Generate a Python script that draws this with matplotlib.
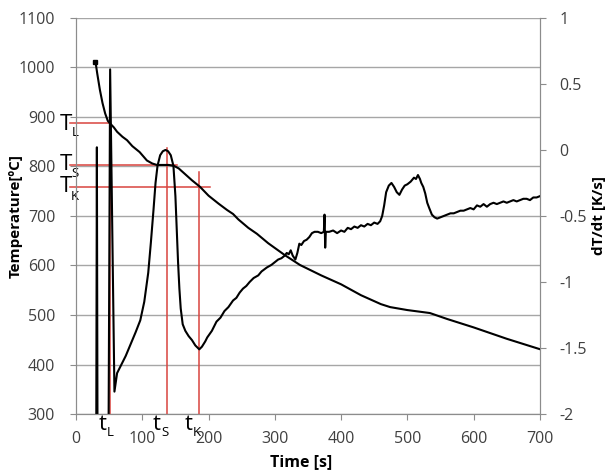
import matplotlib.pyplot as plt

plt.rcParams['font.family'] = ['Open Sans', 'DejaVu Sans']

# Temperature curve [s], [degC]
time_T = [29, 30, 32, 36, 40, 44, 48, 52, 57, 62, 70, 77, 85, 96, 107, 115, 122,
          130, 140, 148, 155, 165, 175, 187, 200, 215, 228, 237, 245, 260, 273,
          290, 315, 338, 370, 400, 430, 460, 474, 500, 534, 560, 600, 650, 700]
temp = [1010, 1006, 988, 955, 928, 907, 892, 886, 879, 870, 860, 853, 841, 829,
        812, 806, 803, 803, 803, 801, 796, 784, 772, 759, 741, 725, 712, 704, 693,
        676, 664, 645, 621, 601, 580, 562, 540, 522, 516, 510, 504, 492, 475, 452, 431]

# Cooling rate curve [s], [K/s]
time_d = [30.5, 31.5, 32.5, 49, 51.5, 58, 60, 62, 65, 69, 75, 80, 85, 90, 97, 103,
          109, 113, 117, 120, 123, 127, 131, 135, 139, 143, 147, 150, 152, 154,
          156, 158, 161, 165, 170, 175, 180, 186, 190, 195, 198, 205, 212, 218,
          224, 230, 237, 242, 247, 252, 257, 262, 268, 275, 280, 288, 295, 300,
          305, 310, 315, 318, 321, 324, 327, 331, 334, 337, 340, 344, 348, 352,
          356, 360, 365, 370, 374, 375, 376, 377, 382, 388, 394, 400, 405, 410,
          415, 420, 425, 430, 435, 440, 445, 450, 455, 459, 462, 465, 468, 472,
          476, 480, 484, 488, 492, 496, 500, 505, 510, 513, 516, 519, 521, 524,
          527, 530, 533, 537, 541, 545, 550, 555, 560, 565, 570, 575, 580, 585,
          590, 595, 600, 605, 610, 615, 620, 625, 630, 635, 640, 645, 650, 655,
          660, 665, 670, 675, 680, 685, 690, 695, 700]
rate = [-2.3, 0.02, -2.3, -2.3, 0.61, -1.83, -1.76, -1.69, -1.66, -1.62, -1.56,
        -1.5, -1.44, -1.38, -1.29, -1.15, -0.93, -0.7, -0.45, -0.25, -0.12, -0.04,
        -0.01, 0.0, -0.01, -0.04, -0.12, -0.35, -0.6, -0.85, -1.05, -1.2, -1.32,
        -1.37, -1.41, -1.44, -1.48, -1.51, -1.49, -1.45, -1.42, -1.37, -1.3, -1.27,
        -1.22, -1.19, -1.14, -1.12, -1.08, -1.05, -1.03, -1.0, -0.97, -0.95, -0.92,
        -0.89, -0.87, -0.85, -0.83, -0.82, -0.8, -0.78, -0.79, -0.76, -0.8, -0.83,
        -0.78, -0.71, -0.72, -0.69, -0.68, -0.66, -0.63, -0.62, -0.62, -0.63,
        -0.62, -0.49, -0.74, -0.62, -0.62, -0.61, -0.63, -0.61, -0.62, -0.59,
        -0.6, -0.58, -0.59, -0.57, -0.58, -0.56, -0.57, -0.55, -0.56, -0.54,
        -0.5, -0.42, -0.32, -0.27, -0.25, -0.28, -0.32, -0.34, -0.3, -0.27, -0.26,
        -0.24, -0.21, -0.22, -0.19, -0.22, -0.25, -0.28, -0.33, -0.4, -0.44,
        -0.49, -0.51, -0.52, -0.51, -0.5, -0.49, -0.48, -0.48, -0.47, -0.46,
        -0.46, -0.45, -0.44, -0.45, -0.42, -0.43, -0.41, -0.43, -0.41, -0.4,
        -0.41, -0.4, -0.39, -0.4, -0.39, -0.38, -0.39, -0.38, -0.37, -0.37,
        -0.38, -0.36, -0.36, -0.35]

# characteristic points: liquidus, solidus, K
char_names = ['L', 'S', 'K']
char_time = [51, 137, 186]
char_temp = [888, 803, 759]
hline_end = [51, 152, 202]
vline_top = [893, 837, 789]

red = '#d9443f'
grid_c = '#a6a6a6'
spine_c = '#8c8c8c'
tick_c = '#404040'

fig = plt.figure(figsize=(6.08, 4.70), dpi=100)
ax = fig.add_axes([0.125, 0.119, 0.763, 0.843])
ax2 = ax.twinx()

ax.set_xlim(0, 700)
ax.set_ylim(300, 1100)
ax.set_xticks(range(0, 701, 100))
ax.set_yticks(range(300, 1101, 100))
ax.grid(axis='y', color=grid_c, linewidth=1)
ax.set_axisbelow(True)
ax2.set_ylim(-2, 1)
ax2.set_yticks([-2, -1.5, -1, -0.5, 0, 0.5, 1])
ax2.set_yticklabels(['-2', '-1.5', '-1', '-0.5', '0', '0.5', '1'])

for a in (ax, ax2):
    a.spines['top'].set_visible(False)
    for s in ('left', 'right', 'bottom'):
        a.spines[s].set_color(spine_c)
    a.tick_params(colors=spine_c, labelcolor=tick_c, labelsize=11.5,
                  direction='out', length=4)
ax.tick_params(axis='x', pad=8)
ax.tick_params(axis='y', pad=11)
ax2.tick_params(axis='y', pad=10)

# red marker lines
for i in range(3):
    ax.plot([-9, hline_end[i]], [char_temp[i], char_temp[i]], color=red,
            lw=1.1, clip_on=False, zorder=3)
    ax.plot([char_time[i], char_time[i]], [300, vline_top[i]], color=red,
            lw=1.1, zorder=3)

ax.plot(time_T, temp, color='black', lw=1.5, zorder=4)
ax.plot(time_T[0], temp[0], marker='s', ms=3.5, color='black', zorder=4)
ax2.plot(time_d, rate, color='black', lw=1.5)

# T and t labels
t_text_pos = [40, 122, 170]
t_sub_pos = [51, 134, 183]
T_sub_y = [868, 785, 740]
T_main_y = [885, 804, 760]
for i in range(3):
    ax.text(-14.5, T_main_y[i], 'T', fontsize=16, ha='center', va='center',
            clip_on=False)
    ax.text(-1.5, T_sub_y[i], char_names[i], fontsize=9.5, ha='center',
            va='center', clip_on=False)
    ax.text(t_text_pos[i], 279, 't', fontsize=16, ha='center', va='center',
            clip_on=False)
    ax.text(t_sub_pos[i], 263, char_names[i], fontsize=9.5, ha='center',
            va='center', clip_on=False)

ax.set_xlabel('Time [s]', fontsize=11.5, fontweight='bold')
ax.set_ylabel('Temperature[ºC]', fontsize=11, fontweight='bold')
ax2.set_ylabel('dT/dt [K/s]', fontsize=11, fontweight='bold', labelpad=4)
ax.xaxis.set_label_coords(0.485, -0.1)
ax.yaxis.set_label_coords(-0.115, 0.5)

fig.savefig('out.png', dpi=100)
